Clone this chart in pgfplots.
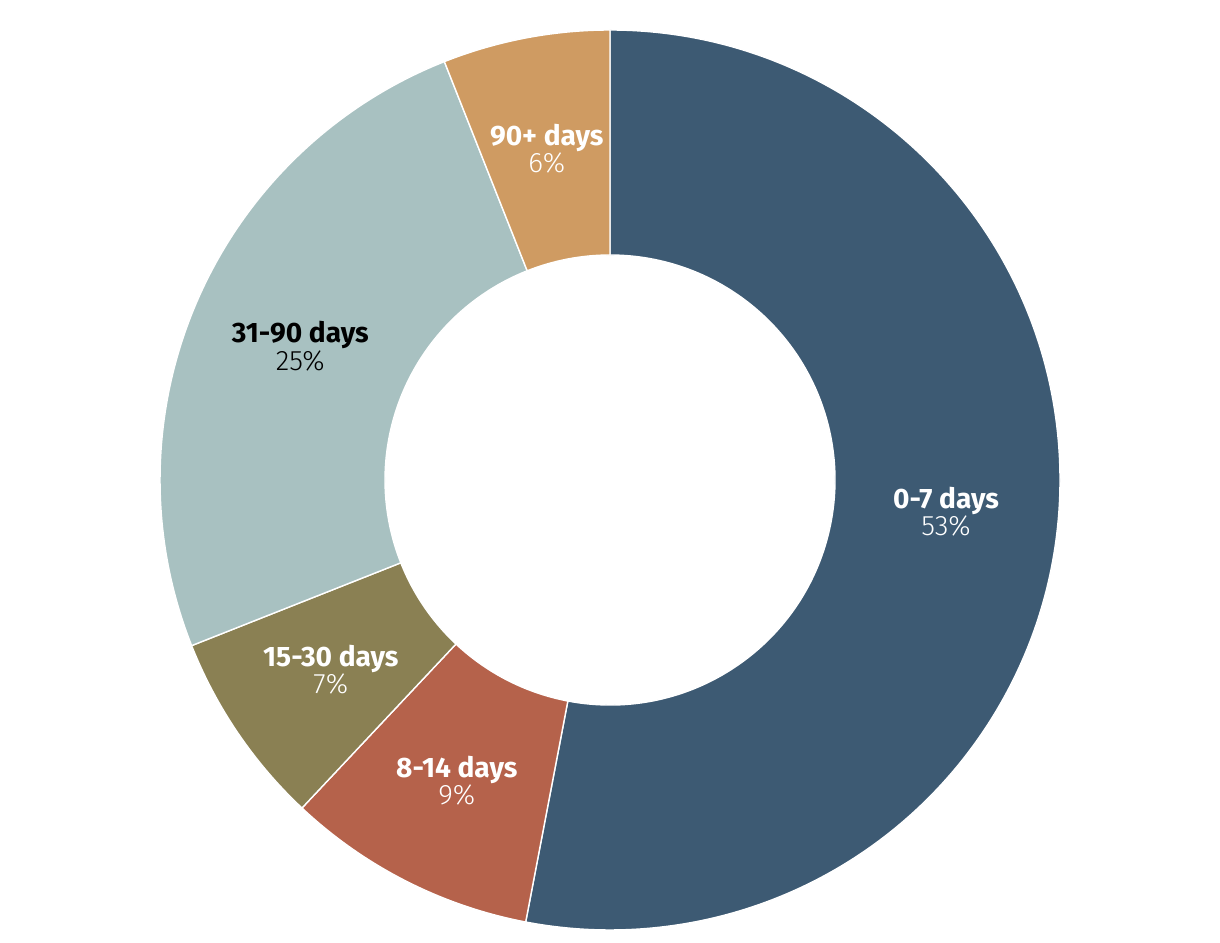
\documentclass[border=0pt]{standalone}
\usepackage{pgfplots}
\pgfplotsset{compat=1.18}
\usepackage{fontspec}
\setmainfont{Fira Sans}
\newfontfamily\lightfont{Fira Sans Light}
\definecolor{cA}{HTML}{3D5A73}
\definecolor{cB}{HTML}{B5624B}
\definecolor{cC}{HTML}{8A8053}
\definecolor{cD}{HTML}{A8C1C1}
\definecolor{cE}{HTML}{CF9B62}
\newcommand\labelfont{\fontsize{8}{7.8}\selectfont}
% #1 cumulative start (%), #2 value (%), #3 fill colour, #4 text colour, #5 name
\newcommand\slice[5]{%
  \pgfmathsetmacro\aA{90-3.6*#1}%
  \pgfmathsetmacro\aB{90-3.6*(#1+#2)}%
  \pgfmathsetmacro\aM{(\aA+\aB)/2}%
  \pgfmathsetmacro\xo{4.5*cos(\aA)}%
  \pgfmathsetmacro\yo{4.5*sin(\aA)}%
  \pgfmathsetmacro\xi{2.25*cos(\aB)}%
  \pgfmathsetmacro\yi{2.25*sin(\aB)}%
  \pgfmathsetmacro\xl{3.375*cos(\aM)}%
  \pgfmathsetmacro\yl{3.375*sin(\aM)}%
  \edef\doit{%
    \noexpand\path[fill=#3, draw=white, line width=0.4pt, line join=round]
      (axis cs:\xo,\yo) arc[start angle=\aA, end angle=\aB, radius=4.5cm]
      -- (axis cs:\xi,\yi) arc[start angle=\aB, end angle=\aA, radius=2.25cm] -- cycle;
    \noexpand\node[text=#4, align=center, font=\noexpand\labelfont, inner sep=0pt]
      at (axis cs:\xl,\yl) {\noexpand\textbf{#5}\noexpand\\{\noexpand\lightfont #2\noexpand\%}};
  }%
  \doit
}
\begin{document}
\begin{tikzpicture}
\begin{axis}[x=1cm, y=1cm, xmin=-6.1, xmax=6.1, ymin=-4.6, ymax=4.8,
  hide axis, clip=false]
\addplot[draw=none] coordinates {(-6.1,-4.6) (6.1,4.8)};
\slice{0}{53}{cA}{white}{0-7 days}
\slice{53}{9}{cB}{white}{8-14 days}
\slice{62}{7}{cC}{white}{15-30 days}
\slice{69}{25}{cD}{black}{31-90 days}
\slice{94}{6}{cE}{white}{90+ days}
\end{axis}
\end{tikzpicture}
\end{document}
